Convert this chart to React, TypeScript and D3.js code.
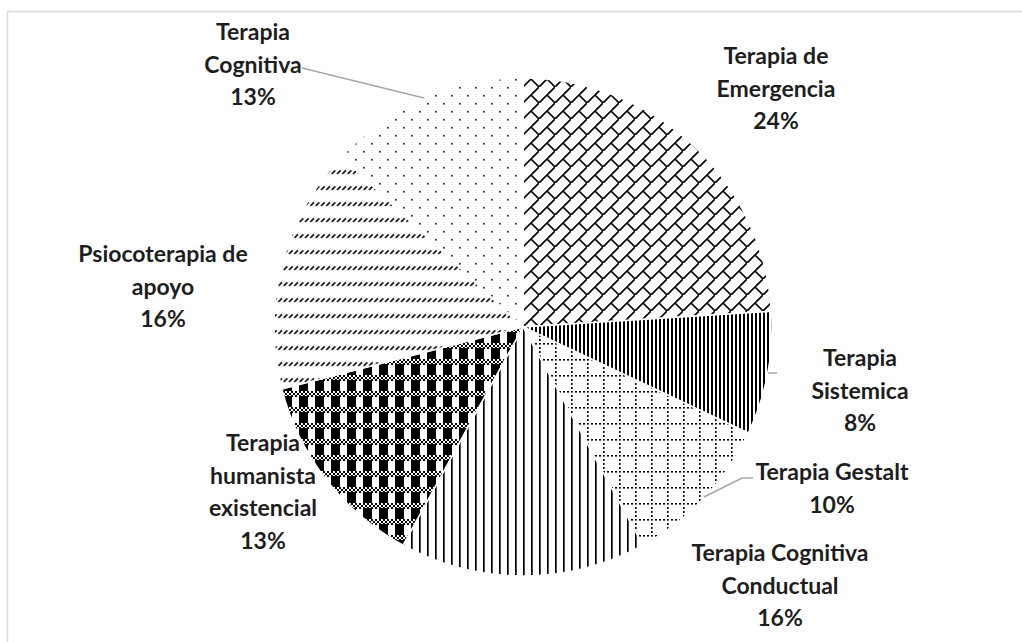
import React from "react";
import * as d3 from "d3";

const categories = [
  "Terapia de Emergencia",
  "Terapia Sistemica",
  "Terapia Gestalt",
  "Terapia Cognitiva Conductual",
  "Terapia humanista existencial",
  "Psiocoterapia de apoyo",
  "Terapia Cognitiva",
];
const values = [24, 8, 10, 16, 13, 16, 13];
const labelLines = [
  ["Terapia de", "Emergencia"],
  ["Terapia", "Sistemica"],
  ["Terapia Gestalt"],
  ["Terapia Cognitiva", "Conductual"],
  ["Terapia", "humanista", "existencial"],
  ["Psiocoterapia de", "apoyo"],
  ["Terapia", "Cognitiva"],
];
const patternIds = ["pBrick", "pNarrowV", "pDotGrid", "pLightV", "pPlaid", "pDashDiag", "pDots"];

// layout (label block centre x, first line centre y)
const labelPos: [number, number][] = [
  [776, 55],
  [860, 357],
  [832, 471],
  [780, 552],
  [263, 442],
  [163, 253],
  [253, 31],
];
const leaders: (null | [number, number][])[] = [
  null,
  [[768, 373], [777, 373]],
  [[704, 497], [742, 478], [753, 478]],
  null,
  null,
  null,
  [[424, 98], [302, 68]],
];

const W = 1022, H = 642;
const cx = 523, cy = 327, R = 249;
const lineH = 32.5;

export default function App() {
  const pie = d3.pie<number>().sort(null).value((d) => d)(values);
  const arc = d3.arc<d3.PieArcDatum<number>>().innerRadius(0).outerRadius(R);
  const checker: JSX.Element[] = [];
  for (let r = 0; r < 3; r++)
    for (let c = 0; c < 8; c++)
      if ((r + c) % 2 === 0) checker.push(<rect key={r + "-" + c} x={c * 2} y={r * 2} width={2} height={2} fill="#000" />);
  return (
    <svg width={W} height={H} style={{ position: "fixed", left: 0, top: 0, background: "#fff" }}
      fontFamily="Lato, 'Open Sans', sans-serif">
      <defs>
        <pattern id="pBrick" patternUnits="userSpaceOnUse" width={16} height={16}>
          <rect width={16} height={16} fill="#fff" />
          <path d="M-4,20 L20,-4 M8,8 L16,16 M-8,8 L0,16 M8,-8 L16,0" stroke="#000" strokeWidth={1.6} />
        </pattern>
        <pattern id="pNarrowV" patternUnits="userSpaceOnUse" width={4} height={4}>
          <rect width={4} height={4} fill="#fff" />
          <rect x={0} width={2} height={4} fill="#000" />
        </pattern>
        <pattern id="pDotGrid" patternUnits="userSpaceOnUse" width={16} height={16}>
          <rect width={16} height={16} fill="#fff" />
          {[0, 4, 8, 12].map((x) => <rect key={"h" + x} x={x} y={0} width={2} height={1.6} fill="#000" />)}
          {[4, 8, 12].map((y) => <rect key={"v" + y} x={0} y={y} width={1.6} height={2} fill="#000" />)}
        </pattern>
        <pattern id="pLightV" patternUnits="userSpaceOnUse" width={8} height={8}>
          <rect width={8} height={8} fill="#fff" />
          <rect x={0} width={1.7} height={8} fill="#000" />
        </pattern>
        <pattern id="pPlaid" patternUnits="userSpaceOnUse" width={16} height={16}>
          <rect width={16} height={16} fill="#fff" />
          {checker}
          <rect x={0} y={5} width={9} height={11} fill="#000" />
        </pattern>
        <pattern id="pDashDiag" patternUnits="userSpaceOnUse" width={16 / 3} height={16}>
          <rect width={16 / 3} height={16} fill="#fff" />
          <path d="M0.7,7 L4.3,3.4" stroke="#000" strokeWidth={1.5} />
        </pattern>
        <pattern id="pDots" patternUnits="userSpaceOnUse" width={16} height={16}>
          <rect width={16} height={16} fill="#fff" />
          <rect x={0} y={0} width={1.6} height={1.6} fill="#111" />
          <rect x={8} y={8} width={1.6} height={1.6} fill="#111" />
        </pattern>
      </defs>
      <rect x={7.5} y={11.5} width={W + 10} height={H + 10} fill="#fff" stroke="#d9d9d9" strokeWidth={1.5} />
      <g>
        {pie.map((d, i) => (
          <path key={categories[i]} d={arc(d) || ""} fill={`url(#${patternIds[i]})`} stroke="#fff" strokeWidth={1.5}
            transform={`translate(${cx},${cy})`} />
        ))}
      </g>
      {leaders.map((l, i) => l && (
        <polyline key={"l" + i} points={l.map((p) => p.join(",")).join(" ")} fill="none" stroke="#a6a6a6" strokeWidth={1.5} />
      ))}
      {categories.map((c, i) => {
        const lines = [...labelLines[i], `${values[i]}%`];
        const [x, y] = labelPos[i];
        return (
          <text key={"t" + c} x={x} y={y} textAnchor="middle" fontSize={23} fontWeight={700} fill="#1e1e1e">
            {lines.map((ln, j) => (
              <tspan key={j} x={x} y={y + j * lineH} dominantBaseline="central">{ln}</tspan>
            ))}
          </text>
        );
      })}
    </svg>
  );
}
